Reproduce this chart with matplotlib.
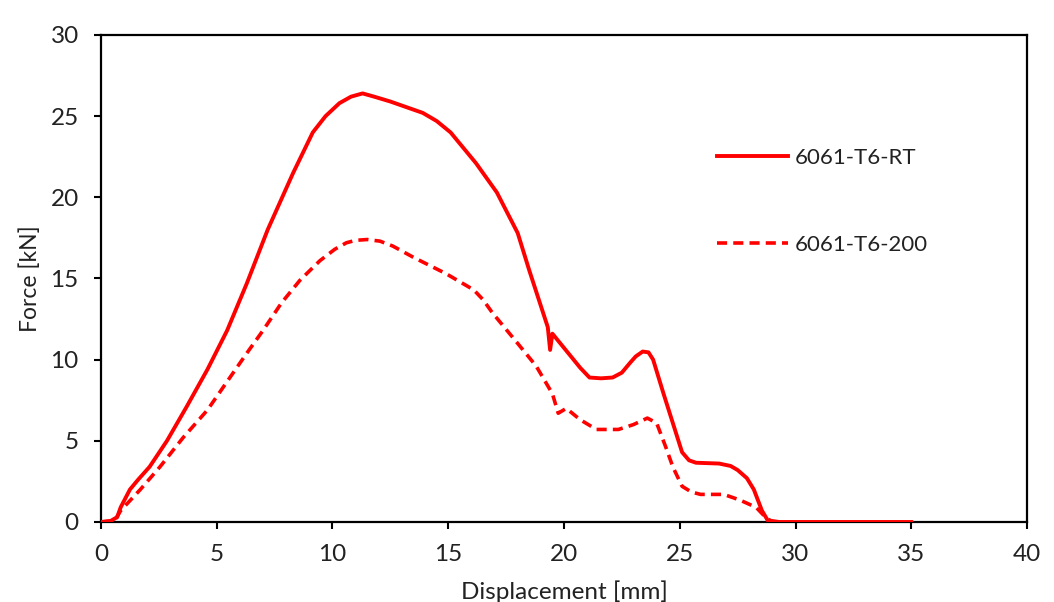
import numpy as np
import matplotlib
matplotlib.use('Agg')
import matplotlib.pyplot as plt

plt.rcParams['font.family'] = ['Lato', 'DejaVu Sans']

# 6061-T6 at room temperature
disp_rt = [0, 0.4, 0.7, 0.85, 1.25, 1.6, 2.1, 2.85, 3.7, 4.6, 5.45, 6.3, 7.2,
           8.3, 9.15, 9.7, 10.3, 10.8, 11.3, 11.8, 12.5, 13.9, 14.5, 15.1,
           16.2, 17.1, 18.0, 18.5, 19.3, 19.4, 19.5, 19.9, 20.3, 20.7, 21.1,
           21.6, 22.1, 22.5, 22.85, 23.1, 23.4, 23.65, 23.85, 24.3, 24.9, 25.1,
           25.4, 25.7, 26.7, 27.2, 27.5, 27.9, 28.2, 28.55, 28.8, 29.3, 35.0]
force_rt = [0, 0.05, 0.3, 0.9, 2.0, 2.6, 3.4, 5.0, 7.1, 9.4, 11.8, 14.7, 18.0,
            21.5, 24.0, 25.0, 25.8, 26.2, 26.4, 26.2, 25.9, 25.2, 24.7, 24.0,
            22.1, 20.3, 17.8, 15.5, 12.0, 10.6, 11.6, 10.9, 10.2, 9.5, 8.9,
            8.85, 8.9, 9.2, 9.8, 10.2, 10.5, 10.45, 10.0, 7.9, 5.2, 4.3,
            3.8, 3.65, 3.6, 3.45, 3.2, 2.7, 2.0, 0.7, 0.1, 0, 0]

# 6061-T6 at 200 C
disp_200 = [0, 0.6, 0.85, 1.7, 2.55, 3.55, 4.6, 5.57, 6.3, 7.0, 7.8, 8.6, 9.46,
            10.1, 10.6, 11.0, 11.5, 12.05, 12.6, 13.5, 14.9, 16.1, 16.5, 16.9,
            18.0, 18.8, 19.5, 19.75, 20.1, 20.7, 21.4, 22.35, 23.0, 23.6, 24.0,
            24.4, 24.7, 25.1, 25.5, 25.9, 26.9, 27.6, 28.3, 28.7, 29.0, 29.5]
force_200 = [0, 0.1, 0.7, 2.0, 3.4, 5.2, 6.9, 8.9, 10.4, 11.8, 13.5, 14.9, 16.1,
             16.8, 17.2, 17.35, 17.4, 17.3, 17.0, 16.3, 15.3, 14.3, 13.7, 12.9,
             11.0, 9.6, 7.9, 6.7, 7.0, 6.3, 5.7, 5.7, 6.0, 6.4, 6.1,
             4.6, 3.4, 2.2, 1.85, 1.7, 1.7, 1.35, 0.9, 0.3, 0, 0]

fig = plt.figure(figsize=(10.54, 6.02), dpi=100)
ax = fig.add_axes([0.0958, 0.1329, 0.8786, 0.809])

ax.plot(disp_200, force_200, color='#ff0000', lw=2.6, ls=(0, (2.8, 1.7)),
        label='6061-T6-200', zorder=3)
ax.plot(disp_rt, force_rt, color='#ff0000', lw=2.8, label='6061-T6-RT',
        zorder=4)

ax.set_xlim(0, 40)
ax.set_ylim(0, 30)
ax.set_xticks(np.arange(0, 41, 5))
ax.set_yticks(np.arange(0, 31, 5))
ax.tick_params(direction='out', length=5, width=1.5, labelsize=17.5,
               colors='black', labelcolor='#222222')
ax.tick_params(axis='x', pad=11)
ax.tick_params(axis='y', pad=11)
for s in ax.spines.values():
    s.set_linewidth(1.6)
    s.set_color('black')

ax.set_xlabel('Displacement [mm]', fontsize=17.5, labelpad=11, color='#222222')
ax.set_ylabel('Force [kN]', fontsize=16.5, labelpad=7, color='#222222')

h, l = ax.get_legend_handles_labels()
leg = ax.legend(h[::-1], l[::-1], loc='center left',
                bbox_to_anchor=(0.665, 0.658), frameon=False, fontsize=16,
                handlelength=3.2, handletextpad=0.3, labelspacing=3.0,
                borderpad=0, borderaxespad=0)
for t in leg.get_texts():
    t.set_color('#222222')

plt.savefig('out.png', dpi=100)
